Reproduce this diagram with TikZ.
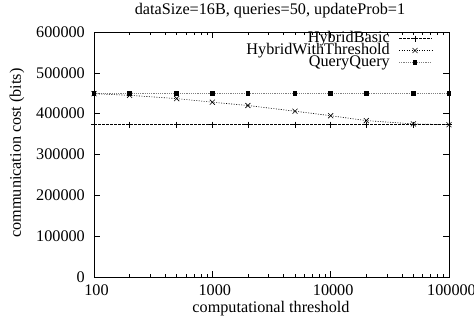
\documentclass[tikz,border=0pt]{standalone}
\usepackage{fontspec}
\setmainfont{Liberation Serif}
\begin{document}
\begin{tikzpicture}[x=1pt,y=-1pt,
  lbl/.style={inner sep=0pt,font=\fontsize{16.2}{18}\selectfont},
  leg/.style={lbl,anchor=east,text height=9pt,text depth=1.5pt},
  axis/.style={line width=0.9pt},
  tk/.style={line width=0.6pt},
  basic/.style={line width=0.5pt,dash pattern=on 2.5pt off 1.5pt},
  thr/.style={line width=0.6pt,dash pattern=on 1pt off 1.5pt},
  qq/.style={line width=0.8pt,gray,dash pattern=on 1.2pt off 1pt},
  mplus/.style={line width=0.6pt},
  mx/.style={line width=0.6pt},
]
\useasboundingbox (0,0) rectangle (474,322);
% frame
\draw[axis] (94,32) rectangle (449,277);
% y ticks
\foreach \v/\lab in {0/0,1/100000,2/200000,3/300000,4/400000,5/500000,6/600000}{
  \pgfmathsetmacro{\yy}{277-\v*40.833}
  \draw[tk] (94,\yy) -- ++(6,0);
  \draw[tk] (449,\yy) -- ++(-6,0);
  \node[lbl,anchor=east] (yl\v) at (85,\yy) {\lab};
}
% x ticks
\foreach \d/\lab in {0/100,1/1000,2/10000,3/100000}{
  \pgfmathsetmacro{\xx}{94+\d*118.333}
  \draw[tk] (\xx,277) -- ++(0,-6);
  \draw[tk] (\xx,32) -- ++(0,6);
  \node[lbl] (xl\d) at (\xx+2.5,290) {\lab};
}
\foreach \d in {0,1,2}{
  \foreach \m in {2,...,9}{
    \pgfmathsetmacro{\xx}{94+(\d+log10(\m))*118.333}
    \draw[tk] (\xx,277) -- ++(0,-3);
    \draw[tk] (\xx,32) -- ++(0,3);
  }
}
% labels
\node[lbl] (title) at (270,11) {dataSize=16B, queries=50, updateProb=1};
\node[lbl] (xlab) at (271,309) {computational threshold};
\node[lbl,rotate=90] (ylab) at (17,153) {communication cost (bits)};
% data
\def\xs{94/93.7/124.7, 129.6/95.3/124.7, 176.7/98.6/124.7, 212.3/102.2/124.7, 247.9/105.5/124.7, 295.0/111.2/124.7, 330.7/115.7/124.7, 366.3/120.6/124.7, 413.4/123.9/124.7, 449/124.7/124.7}
\draw[basic] (94,124.7) -- (449,124.7);
\draw[qq] (94,93.3) -- (449,93.3);
\draw[thr] (94,93.7) -- (129.6,95.3) -- (176.7,98.6) -- (212.3,102.2) -- (247.9,105.5) -- (295.0,111.2) -- (330.7,115.7) -- (366.3,120.6) -- (413.4,123.9) -- (449,124.7);
\foreach \x/\yt/\yb in \xs{
  \draw[mplus] (\x-3,\yb) -- (\x+3,\yb) (\x,\yb-3) -- (\x,\yb+3);
  \draw[mx] (\x-2.5,\yt-2.5) -- (\x+2.5,\yt+2.5) (\x-2.5,\yt+2.5) -- (\x+2.5,\yt-2.5);
  \fill (\x-2.3,93.3-2.3) rectangle (\x+2.3,93.3+2.3);
}
% legend
\node[leg] (lg1) at (390,38.5) {HybridBasic};
\node[leg] (lg2) at (390,50.5) {HybridWithThreshold};
\node[leg] (lg3) at (390,62.5) {QueryQuery};
\draw[basic] (399,38.5) -- (432,38.5);
\draw[mplus] (412,38.5) -- (418,38.5) (415,35.5) -- (415,41.5);
\draw[thr] (399,50.5) -- (432,50.5);
\draw[mx] (412.5,48) -- (417.5,53) (412.5,53) -- (417.5,48);
\draw[qq] (399,62.5) -- (432,62.5);
\fill (412.7,60.2) rectangle (417.3,64.8);
\end{tikzpicture}
\end{document}
